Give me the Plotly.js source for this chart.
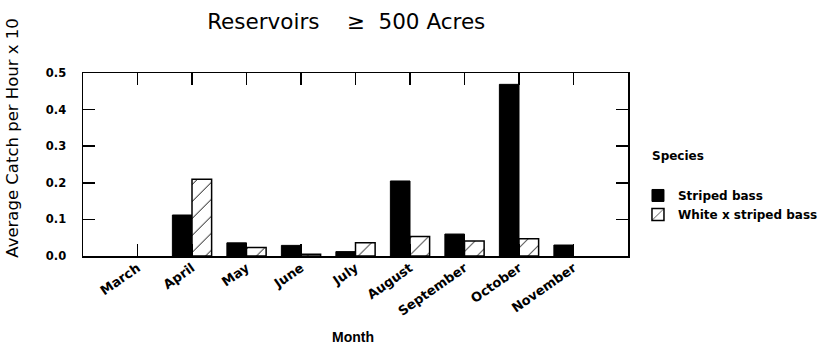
<!DOCTYPE html>
<html>
<head>
<meta charset="utf-8">
<script src="https://cdn.plot.ly/plotly-3.0.1.min.js"></script>
<style>
  html, body { margin: 0; padding: 0; background: #ffffff; }
  #chart { width: 819px; height: 346px; }
</style>
</head>
<body>
<div id="chart"></div>
<script>
// Monthly catch rates for reservoirs of 500 acres or more
const months = ["March", "April", "May", "June", "July", "August", "September", "October", "November"];
const stripedBass = [0, 0.112, 0.036, 0.029, 0.012, 0.205, 0.060, 0.469, 0.030];
const hybridBass = [0, 0.210, 0.023, 0.005, 0.036, 0.053, 0.041, 0.047, 0];
const seriesNames = ["Striped bass", "White x striped bass"];
const yTicks = [0, 0.1, 0.2, 0.3, 0.4, 0.5];

const boldFont = (size) => ({ family: "DejaVu Sans, Verdana, sans-serif", size: size, color: "#000", weight: "bold" });
const plainFont = (size) => ({ family: "DejaVu Sans, Verdana, sans-serif", size: size, color: "#000" });

// Months with no catch get no bar at all (not even a flat outline on the axis)
const barsOnly = (vals) => vals.map(v => (v > 0 ? v : null));

const traces = [
  {
    type: "bar",
    x: months,
    y: barsOnly(stripedBass),
    name: seriesNames[0],
    marker: { color: "#000000", line: { color: "#000000", width: 1 } }
  },
  {
    type: "bar",
    x: months,
    y: barsOnly(hybridBass),
    name: seriesNames[1],
    marker: {
      color: "#ffffff",
      line: { color: "#000000", width: 1.5 },
      pattern: { shape: "/", fgcolor: "#000000", bgcolor: "#ffffff", size: 12, solidity: 0.08, fillmode: "replace" }
    }
  }
];

const layout = {
  width: 819,
  height: 346,
  margin: { l: 83, r: 191, t: 73, b: 90, autoexpand: false },
  paper_bgcolor: "#ffffff",
  plot_bgcolor: "#ffffff",
  barmode: "group",
  bargap: 0.28,
  bargroupgap: 0,
  title: {
    text: "Reservoirs&nbsp;&nbsp;&nbsp; ≥&nbsp;&nbsp;500 Acres",
    font: plainFont(21.5),
    x: 0.483, xanchor: "center", xref: "paper",
    y: 0.939, yanchor: "middle"
  },
  xaxis: {
    type: "category",
    range: [-1, 9],
    showline: true, linecolor: "#000", linewidth: 1.5, mirror: "ticks",
    ticks: "inside", ticklen: 12, tickwidth: 1.5, tickcolor: "#000",
    tickangle: -35,
    tickfont: boldFont(13),
    ticklabelstandoff: -2,
    showgrid: false, zeroline: false,
    automargin: false,
    fixedrange: true
  },
  yaxis: {
    range: [0, 0.5],
    tickvals: yTicks,
    tickformat: ".1f",
    showline: true, linecolor: "#000", linewidth: 1.5, mirror: "ticks",
    ticks: "inside", ticklen: 12, tickwidth: 1.5, tickcolor: "#000",
    ticklabelstandoff: 13,
    tickfont: boldFont(11.5),
    showgrid: false, zeroline: false,
    automargin: false,
    fixedrange: true
  },
  legend: {
    x: 1.0183, xanchor: "left",
    y: 0.41, yanchor: "top",
    font: boldFont(12),
    bgcolor: "rgba(0,0,0,0)"
  },
  annotations: [
    {
      text: "Average Catch per Hour x 10",
      xref: "paper", yref: "paper",
      x: -0.129, y: 0.645,
      xanchor: "center", yanchor: "middle",
      textangle: -90,
      showarrow: false,
      font: plainFont(16.5)
    },
    {
      text: "Month",
      xref: "paper", yref: "paper",
      x: 0.495, y: -0.443,
      xanchor: "center", yanchor: "middle",
      showarrow: false,
      font: { family: "Liberation Sans Narrow, Arial Narrow, sans-serif", size: 14, color: "#000", weight: "bold" }
    },
    {
      text: "Species",
      xref: "paper", yref: "paper",
      x: 1.041, y: 0.546,
      xanchor: "left", yanchor: "middle",
      showarrow: false,
      font: boldFont(12)
    }
  ],
  showlegend: true
};

Plotly.newPlot("chart", traces, layout, { displayModeBar: false, staticPlot: true });
</script>
</body>
</html>
